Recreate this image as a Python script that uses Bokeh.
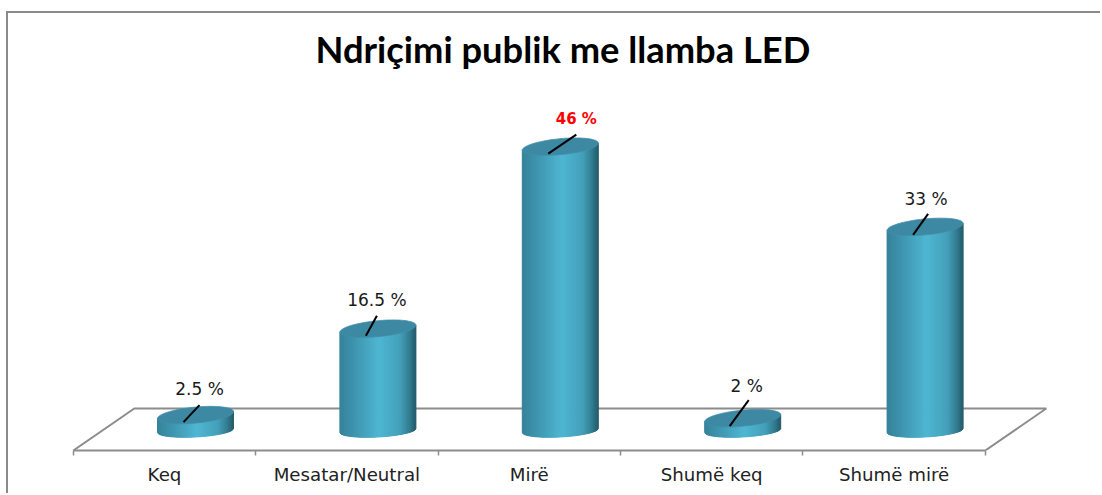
from bokeh.plotting import figure
from bokeh.embed import file_html
from bokeh.resources import INLINE
from bokeh.models import FixedTicker, Range1d, Title
from bokeh.core.properties import value
import numpy as np

categories = ["Keq", "Mesatar/Neutral", "Mirë", "Shumë keq", "Shumë mirë"]
values = [2.5, 16.5, 46, 2, 33]
value_labels = ["2.5 %", "16.5 %", "46 %", "2 %", "33 %"]
label_colors = ["#1a1a1a", "#1a1a1a", "#ff0000", "#1a1a1a", "#1a1a1a"]
title_text = "Ndriçimi publik me llamba LED"

# layout of the pseudo-3D drawing, in screen pixels
CAT_PX = 182.4
VAL_PX = 6.17
FRAME_W, FRAME_H = 1094, 375
X0_PX = 156.0      # x of category 0 within the frame
COL_DX = 31.0      # depth shift of the columns from their tick position
BASE_PX = 20.0     # height of value 0 above the frame bottom
HALF_W = 38.0
TOP_B, TOP_TILT = 8.0, 3.5
BASE_B, BASE_TILT = 6.5, 2.0
FLOOR_DX, FLOOR_DY = 61.0, 42.0
px = 1.0 / CAT_PX
py = 1.0 / VAL_PX
cx = COL_DX * px
leader_from = [(-12, -7), (-12, -7), (-12, -7), (-13, -8), (-12, -8)]
leader_to = [(4, 10), (-1, 13), (16, 12), (6, 18), (3, 13)]
label_off = [(4, 26), (-1, 29), (16, 28), (4, 32), (1, 28)]

x_range = Range1d(-X0_PX * px, (FRAME_W - X0_PX) * px)
y_range = Range1d(-BASE_PX * py, (FRAME_H - BASE_PX) * py)

p = figure(width=1094, height=482, x_range=x_range, y_range=y_range, output_backend="svg",
           toolbar_location=None, min_border=0, min_border_left=0, min_border_right=0,
           min_border_top=62, min_border_bottom=45, margin=(11, 0, 0, 6),
           outline_line_color=None, background_fill_color="white", border_fill_color="white")
p.title = Title(text=title_text, align="left", offset=307, text_font="Lato", text_font_size="36.3px",
                text_font_style="bold", text_color="#000000", standoff=10)
p.styles = {"border-top": "2px solid #8a8a8a", "border-left": "2px solid #8a8a8a"}
p.grid.visible = False
p.yaxis.visible = False

ax = p.xaxis[0]
ax.ticker = FixedTicker(ticks=list(range(len(categories))),
                        minor_ticks=[i - 0.5 for i in range(len(categories) + 1)])
ax.major_label_overrides = {i: c for i, c in enumerate(categories)}
ax.bounds = (-0.5, len(categories) - 0.5)
ax.axis_line_color = "#8c8c8c"
ax.axis_line_width = 2
ax.major_tick_line_color = None
ax.major_tick_out = 0
ax.minor_tick_line_color = "#8c8c8c"
ax.minor_tick_line_width = 1.5
ax.minor_tick_out = 5
ax.minor_tick_in = 0
ax.major_label_text_font = "DejaVu Sans"
ax.major_label_text_font_size = "18.2px"
ax.major_label_text_color = "#222222"
ax.major_label_standoff = 8
ax.major_label_orientation = "horizontal"

# floor
n = len(categories)
y_front = -BASE_PX * py
y_back = y_front + FLOOR_DY * py
p.line([-0.5, -0.5 + FLOOR_DX * px, n - 0.5 + FLOOR_DX * px, n - 0.5],
       [y_front, y_back, y_back, y_front], line_color="#8c8c8c", line_width=2)

# cylinders, as vertical strips
stops_x = [-1.0, -0.55, 0.05, 0.6, 0.85, 1.0]
stops_rgb = np.array([[54, 130, 154], [64, 152, 178], [79, 183, 211],
                      [68, 160, 186], [50, 124, 144], [36, 92, 108]], float)
edges = np.linspace(-1, 1, 77)


def top_edge(d, v):
    return v + TOP_TILT * d * py


def low_edge(d):
    return (BASE_TILT * d - BASE_B * np.sqrt(np.clip(1 - d * d, 0, 1))) * py


xs, ys, cols = [], [], []
for i, v in enumerate(values):
    for a, b in zip(edges[:-1], edges[1:]):
        x0, x1 = i + cx + a * HALF_W * px, i + cx + b * HALF_W * px
        xs.append([x0, x1, x1, x0])
        ys.append([low_edge(a), low_edge(b), top_edge(b, v), top_edge(a, v)])
        m = (a + b) / 2
        rgb = [np.interp(m, stops_x, stops_rgb[:, k]) for k in range(3)]
        cols.append("#%02x%02x%02x" % tuple(int(c) for c in rgb))
p.patches(xs, ys, fill_color=cols, line_color=cols, line_width=1)

# top caps
t = np.linspace(0, 2 * np.pi, 90)
cap_x = [list(i + cx + HALF_W * px * np.cos(t)) for i in range(n)]
cap_y = [list(v + (TOP_B * np.sin(t) + TOP_TILT * np.cos(t)) * py) for v in values]
p.patches(cap_x, cap_y, fill_color="#3d88a2", line_color="#418fa9", line_width=0.8)

# leader lines
p.segment([i + cx + f[0] * px for i, f in enumerate(leader_from)],
          [v + f[1] * py for v, f in zip(values, leader_from)],
          [i + cx + f[0] * px for i, f in enumerate(leader_to)],
          [v + f[1] * py for v, f in zip(values, leader_to)],
          line_color="#000000", line_width=2)

# value labels
for i, v in enumerate(values):
    bold = label_colors[i] == "#ff0000"
    p.text([i + cx], [v], text=[value_labels[i]], text_color=label_colors[i],
           text_font=value("DejaVu Sans"), text_font_size="15px" if bold else "17px",
           text_font_style="bold" if bold else "normal",
           text_align="center", text_baseline="middle",
           x_offset=label_off[i][0], y_offset=-label_off[i][1])

open("out.html", "w").write(file_html(p, INLINE))
